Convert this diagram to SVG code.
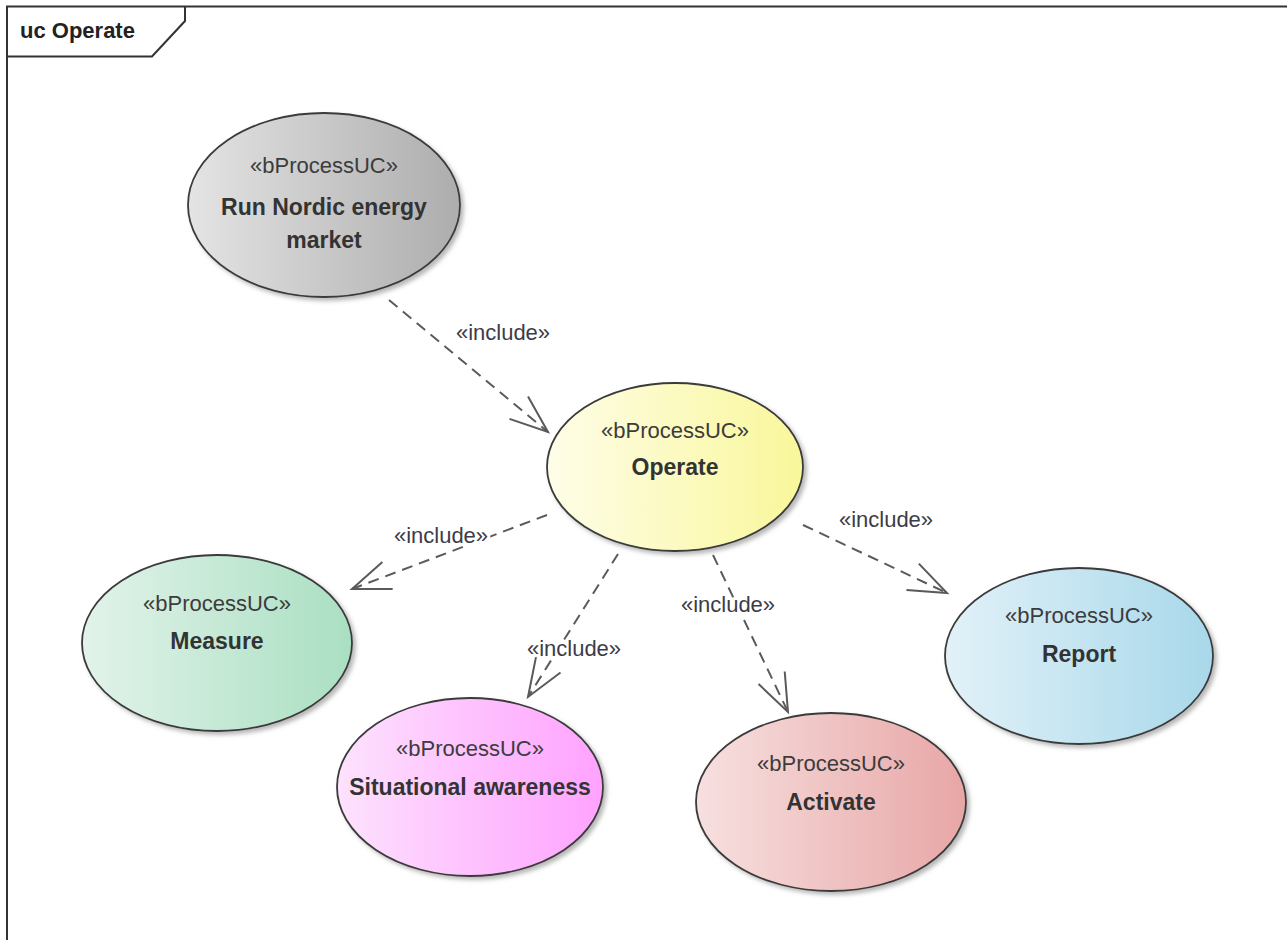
<svg xmlns="http://www.w3.org/2000/svg" width="1287" height="940" viewBox="0 0 1287 940">
<style>
.frame{fill:none;stroke:#333;stroke-width:2}
.uc{stroke:#3a3a3a;stroke-width:1.8;filter:url(#sh)}
.st{font-family:"Liberation Sans",Arial,sans-serif;font-size:22px;fill:#3c3c3c;text-anchor:middle}
.nm{font-family:"Liberation Sans",Arial,sans-serif;font-size:23px;font-weight:bold;fill:#333;text-anchor:middle}
.lbl{font-family:"Liberation Sans",Arial,sans-serif;font-size:22px;fill:#3c3c48;text-anchor:middle;paint-order:stroke;stroke:#fff;stroke-width:6;stroke-linejoin:round}
.dep{fill:none;stroke:#5a5a5a;stroke-width:2;stroke-dasharray:11 7;marker-end:url(#open)}
.title{font-family:"Liberation Sans",Arial,sans-serif;font-size:22px;font-weight:bold;fill:#222}
</style>
<defs>
<filter id="sh" x="-10%" y="-10%" width="125%" height="125%">
<feDropShadow dx="3" dy="3" stdDeviation="2" flood-color="#888" flood-opacity="0.6"/>
</filter>
<marker id="open" markerUnits="userSpaceOnUse" viewBox="-42 -18 46 36" refX="0" refY="0" markerWidth="46" markerHeight="36" orient="auto" overflow="visible">
<path d="M-38,-14.5 L0,0 L-38,14.5" fill="none" stroke="#5a5a5a" stroke-width="2"/>
</marker>
<linearGradient id="gGray" x1="0" y1="0" x2="1" y2="0"><stop offset="0" stop-color="#e4e4e4"/><stop offset="1" stop-color="#adadad"/></linearGradient>
<linearGradient id="gYel" x1="0" y1="0" x2="1" y2="0"><stop offset="0" stop-color="#fefde8"/><stop offset="1" stop-color="#f9f79a"/></linearGradient>
<linearGradient id="gGrn" x1="0" y1="0" x2="1" y2="0"><stop offset="0" stop-color="#e2f3ea"/><stop offset="1" stop-color="#aadfc2"/></linearGradient>
<linearGradient id="gPnk" x1="0" y1="0" x2="1" y2="0"><stop offset="0" stop-color="#fde2fd"/><stop offset="1" stop-color="#ffa2ff"/></linearGradient>
<linearGradient id="gRed" x1="0" y1="0" x2="1" y2="0"><stop offset="0" stop-color="#f7e0e0"/><stop offset="1" stop-color="#e8a6a6"/></linearGradient>
<linearGradient id="gBlu" x1="0" y1="0" x2="1" y2="0"><stop offset="0" stop-color="#e2f1f8"/><stop offset="1" stop-color="#a8d8ea"/></linearGradient>
</defs>
<rect x="0" y="0" width="1287" height="940" fill="#fff"/>
<g id="frame">
<path class="frame" d="M7,940 L7,6.5 L1287,6.5"/>
<path class="frame" d="M7,56.5 L152,56.5 L185,21 L185,6.5"/>
<text class="title" x="20" y="38">uc Operate</text>
</g>
<g id="connectors">
<path class="dep" d="M389,300 L548,432"/>
<path class="dep" d="M547,515 L352,589"/>
<path class="dep" d="M618,554 L528,697"/>
<path class="dep" d="M713,555 L788,712"/>
<path class="dep" d="M803,525 L947,593"/>
<text class="lbl" x="503" y="340">«include»</text>
<text class="lbl" x="441" y="543">«include»</text>
<text class="lbl" x="574" y="656">«include»</text>
<text class="lbl" x="728" y="612">«include»</text>
<text class="lbl" x="886" y="527">«include»</text>
</g>
<g id="run-nordic">
<ellipse class="uc" cx="324" cy="205" rx="136" ry="92" fill="url(#gGray)"/>
<text class="st" x="324" y="173">«bProcessUC»</text>
<text class="nm" x="324" y="215">Run Nordic energy</text>
<text class="nm" x="324" y="248">market</text>
</g>
<g id="operate">
<ellipse class="uc" cx="675" cy="467" rx="128" ry="84" fill="url(#gYel)"/>
<text class="st" x="675" y="438">«bProcessUC»</text>
<text class="nm" x="675" y="475">Operate</text>
</g>
<g id="measure">
<ellipse class="uc" cx="217" cy="643" rx="135" ry="88" fill="url(#gGrn)"/>
<text class="st" x="217" y="611">«bProcessUC»</text>
<text class="nm" x="217" y="649">Measure</text>
</g>
<g id="situational">
<ellipse class="uc" cx="470" cy="787" rx="133" ry="89" fill="url(#gPnk)"/>
<text class="st" x="470" y="756">«bProcessUC»</text>
<text class="nm" x="470" y="795">Situational awareness</text>
</g>
<g id="activate">
<ellipse class="uc" cx="831" cy="802" rx="135" ry="89" fill="url(#gRed)"/>
<text class="st" x="831" y="771">«bProcessUC»</text>
<text class="nm" x="831" y="810">Activate</text>
</g>
<g id="report">
<ellipse class="uc" cx="1079" cy="656" rx="134" ry="88" fill="url(#gBlu)"/>
<text class="st" x="1079" y="623">«bProcessUC»</text>
<text class="nm" x="1079" y="662">Report</text>
</g>
</svg>
